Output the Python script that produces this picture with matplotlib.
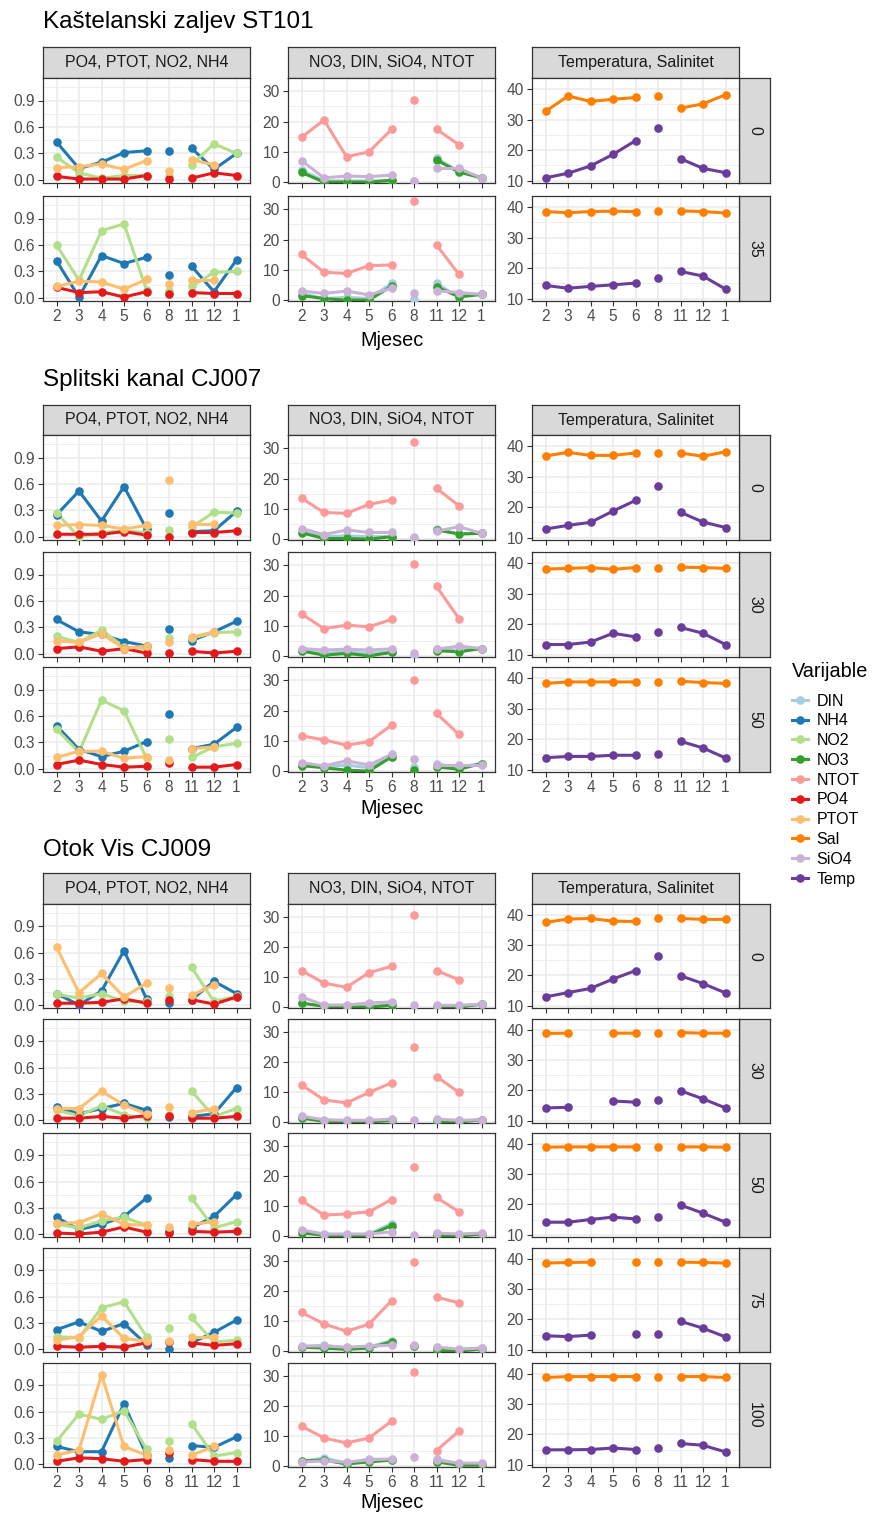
import numpy as np
import matplotlib
matplotlib.use('Agg')
import matplotlib.pyplot as plt
from matplotlib.lines import Line2D

plt.rcParams['font.family'] = ['Liberation Sans', 'DejaVu Sans']

N = np.nan
months = ['2', '3', '4', '5', '6', '8', '11', '12', '1']
variables = ['DIN', 'NH4', 'NO2', 'NO3', 'NTOT', 'PO4', 'PTOT', 'Sal', 'SiO4', 'Temp']
colors = ['#A6CEE3', '#1F78B4', '#B2DF8A', '#33A02C', '#FB9A99',
          '#E31A1C', '#FDBF6F', '#FF7F00', '#CAB2D6', '#6A3D9A']
panel_titles = ['PO4, PTOT, NO2, NH4', 'NO3, DIN, SiO4, NTOT', 'Temperatura, Salinitet']
panel_vars = [['NH4', 'NO2', 'PO4', 'PTOT'], ['DIN', 'NO3', 'NTOT', 'SiO4'], ['Sal', 'Temp']]
stations = ['Kaštelanski zaljev ST101', 'Splitski kanal CJ007', 'Otok Vis CJ009']
depths = [['0', '35'], ['0', '30', '50'], ['0', '30', '50', '75', '100']]

# one dict per station / depth, values per month (months order above)
kastela_0 = dict(
    DIN=[4.0, 0.4, 0.4, 0.4, 0.4, 0.2, 7.8, 3.6, 1.4],
    NH4=[0.43, 0.13, 0.20, 0.31, 0.33, 0.33, 0.36, 0.12, 0.30],
    NO2=[0.26, 0.08, 0.02, 0.05, 0.05, 0.05, 0.17, 0.41, 0.30],
    NO3=[3.2, 0.0, 0.0, 0.0, 0.6, N, 7.3, 3.3, 1.4],
    NTOT=[14.8, 20.5, 8.4, 10.0, 17.4, 27.2, 17.5, 12.3, N],
    PO4=[0.04, 0.01, 0.01, 0.01, 0.05, 0.01, 0.02, 0.08, 0.05],
    PTOT=[0.14, 0.15, 0.18, 0.12, 0.22, 0.10, 0.23, 0.17, N],
    Sal=[32.7, 37.8, 36.0, 36.7, 37.3, 37.8, 33.8, 35.2, 38.2],
    SiO4=[7.1, 1.4, 2.0, 1.8, 2.3, 0.3, 4.5, 4.5, 1.4],
    Temp=[10.9, 12.4, 14.8, 18.6, 23.1, 27.2, 17.2, 14.0, 12.6],
)
kastela_35 = dict(
    DIN=[2.2, 0.5, 0.9, 0.5, 5.5, 0.2, 5.5, 0.9, 1.9],
    NH4=[0.42, 0.01, 0.48, 0.39, 0.46, 0.26, 0.36, 0.07, 0.43],
    NO2=[0.60, 0.20, 0.76, 0.84, 0.09, 0.08, 0.13, 0.29, 0.30],
    NO3=[1.5, 0.5, 0.0, 0.0, 4.6, N, 4.4, 1.1, 1.9],
    NTOT=[15.1, 9.2, 8.8, 11.4, 11.6, 32.8, 18.2, 8.5, N],
    PO4=[0.12, 0.06, 0.07, 0.01, 0.07, 0.04, 0.06, 0.05, 0.05],
    PTOT=[0.13, 0.19, 0.18, 0.10, 0.21, 0.16, 0.20, 0.20, N],
    Sal=[38.6, 38.2, 38.6, 38.7, 38.6, 38.7, 38.8, 38.6, 38.1],
    SiO4=[3.0, 2.2, 3.0, 1.7, 3.9, 2.2, 3.1, 2.5, 1.9],
    Temp=[14.3, 13.4, 14.0, 14.5, 15.1, 16.7, 18.9, 17.4, 13.1],
)
split_0 = dict(
    DIN=[2.8, 0.8, 1.1, 0.8, 0.8, 0.2, 3.2, 1.7, 1.9],
    NH4=[0.25, 0.52, 0.18, 0.57, 0.09, 0.27, 0.06, 0.07, 0.29],
    NO2=[0.27, 0.0, 0.05, 0.07, 0.05, 0.08, 0.11, 0.28, 0.27],
    NO3=[2.1, 0.2, 0.2, 0.0, 0.8, N, 3.0, 1.7, 1.9],
    NTOT=[13.5, 8.8, 8.5, 11.5, 12.9, 32.2, 16.8, 11.0, N],
    PO4=[0.03, 0.03, 0.03, 0.06, 0.02, 0.0, 0.05, 0.05, 0.07],
    PTOT=[0.13, 0.14, 0.13, 0.09, 0.13, 0.64, 0.15, 0.15, N],
    Sal=[36.8, 38.0, 37.0, 37.0, 37.8, 37.8, 37.8, 36.7, 38.2],
    SiO4=[3.5, 1.5, 3.0, 2.2, 2.2, 0.8, 2.6, 4.1, 1.9],
    Temp=[12.8, 14.0, 15.0, 18.7, 22.2, 26.9, 18.3, 15.1, 13.3],
)
split_30 = dict(
    DIN=[1.9, 0.9, 1.4, 0.9, 1.4, 0.5, 2.3, 2.0, 2.5],
    NH4=[0.39, 0.25, 0.22, 0.14, 0.09, 0.28, 0.15, 0.25, 0.37],
    NO2=[0.20, 0.13, 0.27, 0.08, 0.06, 0.18, 0.18, 0.24, 0.25],
    NO3=[1.7, 0.3, 0.9, 0.1, 1.2, N, 1.8, 1.4, 2.5],
    NTOT=[13.9, 9.1, 10.2, 9.7, 12.1, 30.4, 23.0, 12.4, N],
    PO4=[0.06, 0.08, 0.03, 0.06, 0.01, 0.01, 0.03, 0.01, 0.03],
    PTOT=[0.15, 0.13, 0.23, 0.06, 0.09, 0.13, 0.19, 0.25, N],
    Sal=[38.1, 38.3, 38.6, 38.0, 38.6, 38.6, 38.7, 38.6, 38.3],
    SiO4=[2.5, 2.0, 2.3, 2.0, 2.4, 1.1, 2.3, 3.3, 2.5],
    Temp=[13.3, 13.3, 14.1, 17.0, 15.8, 17.4, 18.9, 17.0, 13.3],
)
split_50 = dict(
    DIN=[2.0, 1.4, 2.0, 1.1, 4.7, 1.4, 2.3, 1.4, 2.5],
    NH4=[0.49, 0.22, 0.14, 0.20, 0.31, 0.62, 0.23, 0.28, 0.47],
    NO2=[0.45, 0.19, 0.78, 0.66, 0.12, 0.34, 0.13, 0.25, 0.29],
    NO3=[1.8, 1.1, 0.3, 0.0, 4.7, 0.3, 1.4, 0.6, 2.5],
    NTOT=[11.7, 10.3, 8.6, 9.7, 15.2, 30.1, 19.1, 12.1, N],
    PO4=[0.05, 0.10, 0.05, 0.02, 0.03, 0.07, 0.02, 0.02, 0.05],
    PTOT=[0.13, 0.20, 0.20, 0.12, 0.14, 0.10, 0.23, 0.25, N],
    Sal=[38.3, 38.8, 38.8, 38.8, 38.8, 38.8, 39.0, 38.6, 38.3],
    SiO4=[2.8, 1.7, 3.4, 2.0, 5.5, 3.9, 2.0, 2.0, 2.0],
    Temp=[13.9, 14.3, 14.3, 14.7, 14.7, 15.2, 19.3, 17.1, 13.8],
)
vis_0 = dict(
    DIN=[1.4, 0.3, 0.2, 0.3, 0.6, N, 0.2, 0.3, 1.0],
    NH4=[0.13, 0.0, 0.16, 0.62, 0.07, 0.02, 0.06, 0.27, 0.13],
    NO2=[0.12, 0.08, 0.13, 0.04, 0.04, 0.10, 0.43, 0.04, 0.10],
    NO3=[1.3, 0.3, 0.0, 0.0, 0.6, N, 0.0, 0.0, 1.0],
    NTOT=[12.2, 8.0, 6.6, 11.5, 13.6, 30.6, 12.2, 9.1, N],
    PO4=[0.02, 0.02, 0.03, 0.07, 0.02, 0.06, 0.06, 0.01, 0.09],
    PTOT=[0.66, 0.14, 0.36, 0.09, 0.25, 0.19, 0.11, 0.23, N],
    Sal=[37.6, 38.7, 38.9, 38.0, 37.9, 38.9, 38.9, 38.6, 38.6],
    SiO4=[3.4, 0.7, 0.7, 1.4, 1.7, 0.7, 0.6, 0.6, 1.0],
    Temp=[12.9, 14.3, 15.7, 18.8, 21.6, 26.5, 19.9, 17.3, 14.2],
)
vis_30 = dict(
    DIN=[1.5, 0.4, 0.1, 0.1, 0.7, N, 0.4, 0.1, 0.8],
    NH4=[0.15, 0.07, 0.13, 0.19, 0.11, 0.03, 0.04, 0.07, 0.37],
    NO2=[0.11, 0.05, 0.16, 0.06, 0.02, 0.06, 0.33, 0.04, 0.13],
    NO3=[1.3, 0.3, 0.0, 0.0, 0.6, N, 0.3, 0.0, 0.8],
    NTOT=[12.4, 7.4, 6.4, 9.9, 13.1, 25.2, 15.2, 9.9, N],
    PO4=[0.02, 0.02, 0.04, 0.02, 0.05, 0.04, 0.02, 0.02, 0.04],
    PTOT=[0.13, 0.13, 0.33, 0.17, 0.07, 0.15, 0.08, 0.13, N],
    Sal=[38.9, 39.0, N, 39.0, 39.0, 39.0, 39.2, 39.0, 39.0],
    SiO4=[2.0, 0.8, 0.6, 0.6, 1.0, 0.8, 1.0, 0.6, 0.8],
    Temp=[14.2, 14.4, N, 16.5, 16.1, 16.8, 19.9, 17.2, 14.2],
)
vis_50 = dict(
    DIN=[1.4, 0.3, 0.3, 0.7, 4.2, N, 0.7, 0.3, 0.7],
    NH4=[0.19, 0.05, 0.11, 0.20, 0.41, 0.03, 0.07, 0.20, 0.45],
    NO2=[0.11, 0.07, 0.15, 0.19, 0.10, N, 0.41, 0.07, 0.14],
    NO3=[1.1, 0.3, 0.0, 0.3, 3.5, N, 0.3, 0.0, 0.7],
    NTOT=[11.9, 7.0, 7.4, 8.1, 12.2, 23.1, 12.9, 8.1, N],
    PO4=[0.01, 0.0, 0.02, 0.08, 0.02, 0.01, 0.03, 0.02, 0.03],
    PTOT=[0.12, 0.13, 0.23, 0.11, 0.10, 0.08, 0.11, 0.14, N],
    Sal=[39.0, 39.1, 39.1, 39.1, 39.1, 39.1, 39.1, 39.1, 39.0],
    SiO4=[2.1, 0.7, 0.7, 0.7, 1.4, 0.3, 1.0, 0.7, 1.0],
    Temp=[14.1, 14.1, 15.0, 15.8, 15.2, 15.7, 19.8, 17.1, 14.1],
)
vis_75 = dict(
    DIN=[1.4, 2.0, 1.0, 1.4, 3.5, 1.7, 1.0, 0.3, 1.0],
    NH4=[0.22, 0.31, 0.20, 0.29, 0.05, 0.0, 0.07, 0.19, 0.33],
    NO2=[0.14, 0.13, 0.47, 0.54, 0.14, 0.24, 0.36, 0.08, 0.10],
    NO3=[1.3, 1.0, 0.6, 1.0, 3.1, 1.7, 0.3, 0.0, 0.7],
    NTOT=[12.9, 9.1, 6.6, 9.0, 16.8, 29.7, 18.0, 16.1, N],
    PO4=[0.03, 0.02, 0.03, 0.02, 0.07, 0.08, 0.07, 0.04, 0.06],
    PTOT=[0.10, 0.14, 0.38, 0.12, 0.09, 0.09, 0.14, 0.14, N],
    Sal=[38.7, 38.9, 39.0, N, 39.0, 39.0, 39.0, 38.9, 38.7],
    SiO4=[1.7, 1.7, 1.3, 1.7, 2.0, 2.0, 1.3, 0.7, 1.0],
    Temp=[14.6, 14.3, 14.8, N, 15.2, 15.3, 19.4, 17.1, 14.2],
)
vis_100 = dict(
    DIN=[1.4, 2.8, 1.0, 2.4, 2.1, N, 2.4, 0.7, 0.6],
    NH4=[0.20, 0.14, 0.14, 0.69, 0.10, 0.07, 0.21, 0.19, 0.31],
    NO2=[0.26, 0.57, 0.51, 0.61, 0.17, 0.26, 0.46, 0.09, 0.13],
    NO3=[1.7, 2.0, 0.7, 1.4, 2.0, N, 1.4, 0.3, 0.3],
    NTOT=[13.3, 9.4, 7.7, 9.4, 15.0, 31.5, 5.2, 11.7, N],
    PO4=[0.03, 0.07, 0.06, 0.03, 0.05, 0.12, 0.05, 0.03, 0.03],
    PTOT=[0.10, 0.16, 1.02, 0.20, 0.10, 0.16, 0.10, 0.20, N],
    Sal=[38.9, 39.2, 39.2, 39.2, 39.2, 39.2, 39.2, 39.2, 38.9],
    SiO4=[1.4, 1.7, 1.3, 2.1, 2.4, 3.1, 2.0, 1.0, 1.0],
    Temp=[14.9, 14.9, 15.0, 15.5, 15.0, 15.5, 17.0, 16.4, 14.2],
)
station_rows = [[kastela_0, kastela_35],
                [split_0, split_30, split_50],
                [vis_0, vis_30, vis_50, vis_75, vis_100]]

# axis setup per column
ylims = [(-0.035, 1.155), (-0.3, 34.4), (9.2, 43.7)]
yticks = [[0, 0.3, 0.6, 0.9], [0, 10, 20, 30], [10, 20, 30, 40]]
yminor = [[0.15, 0.45, 0.75, 1.05], [5, 15, 25], [15, 25, 35]]
ylabels = [['0.0', '0.3', '0.6', '0.9'], ['0', '10', '20', '30'], ['10', '20', '30', '40']]

# layout in pixels
W, H = 872, 1513
col_x = [(43, 250), (288, 495), (532, 739)]
strip_right = 770
title_y = [22, 380, 850]
strip_top = [47, 405, 873]
row_tops = [[78, 196], [435, 552, 667], [904, 1019, 1133, 1248, 1363]]
row_h = [105, 105, 104]
xlab_y = [340, 808, 1502]

DARK = '#333333'
STRIP = '#D9D9D9'
GRID = '#EBEBEB'


def frac(x0, y0, x1, y1):
    return [x0 / W, 1 - y1 / H, (x1 - x0) / W, (y1 - y0) / H]


def strip(ax, text, rot):
    ax.set_facecolor(STRIP)
    ax.set_xticks([])
    ax.set_yticks([])
    for sp in ax.spines.values():
        sp.set_color(DARK)
        sp.set_linewidth(0.9)
    ax.text(0.5, 0.5, text, transform=ax.transAxes, ha='center', va='center',
            rotation=rot, fontsize=11.5, color='#1A1A1A')


fig = plt.figure(figsize=(W / 100, H / 100), dpi=100)
x = np.arange(len(months))
segments = [slice(0, 5), slice(5, 6), slice(6, 9)]

for s, name in enumerate(stations):
    fig.text(43 / W, 1 - title_y[s] / H, name, fontsize=17.5, ha='left', va='center')
    tops = row_tops[s]
    for c, (x0, x1) in enumerate(col_x):
        strip(fig.add_axes(frac(x0, strip_top[s], x1, tops[0])), panel_titles[c], 0)
    for r, top in enumerate(tops):
        bottom = top + row_h[s]
        strip(fig.add_axes(frac(col_x[2][1], top, strip_right, bottom)), depths[s][r], -90)
        data = station_rows[s][r]
        last = r == len(tops) - 1
        for c, (x0, x1) in enumerate(col_x):
            ax = fig.add_axes(frac(x0, top, x1, bottom))
            for v in panel_vars[c]:
                y = np.array(data[v], dtype=float)
                col = colors[variables.index(v)]
                for seg in segments:
                    ax.plot(x[seg], y[seg], color=col, lw=2.2, zorder=2)
            for v in panel_vars[c]:
                y = np.array(data[v], dtype=float)
                ax.plot(x, y, ls='none', marker='o', ms=6.2, mew=0,
                        color=colors[variables.index(v)], zorder=3)
            ax.set_xlim(-0.6, 8.6)
            ax.set_ylim(*ylims[c])
            ax.set_xticks(x)
            ax.set_xticklabels(months if last else [])
            ax.set_yticks(yticks[c])
            ax.set_yticklabels(ylabels[c])
            ax.set_yticks(yminor[c], minor=True)
            ax.grid(which='major', color=GRID, lw=1.1)
            ax.grid(which='minor', axis='y', color=GRID, lw=0.6)
            ax.set_axisbelow(True)
            ax.tick_params(which='major', length=3.6, width=0.8, color=DARK,
                           labelsize=11.2, labelcolor='#4D4D4D', pad=2.5)
            ax.tick_params(which='minor', length=0)
            for sp in ax.spines.values():
                sp.set_color(DARK)
                sp.set_linewidth(0.9)
    fig.text(391.5 / W, 1 - xlab_y[s] / H, 'Mjesec', fontsize=14.3, ha='center', va='center')

handles = [Line2D([], [], color=c, lw=2.2, marker='o', ms=6.2, mew=0) for c in colors]
leg = fig.legend(handles, variables, loc='upper left', bbox_to_anchor=(792 / W, 1 - 662 / H),
                 frameon=False, title='Varijable', fontsize=11.5, title_fontsize=14.3,
                 handlelength=1.0, handletextpad=0.55, labelspacing=0.3, borderpad=0,
                 borderaxespad=0, alignment='left')
leg._legend_box.sep = 9

fig.savefig('out.png', dpi=100)
